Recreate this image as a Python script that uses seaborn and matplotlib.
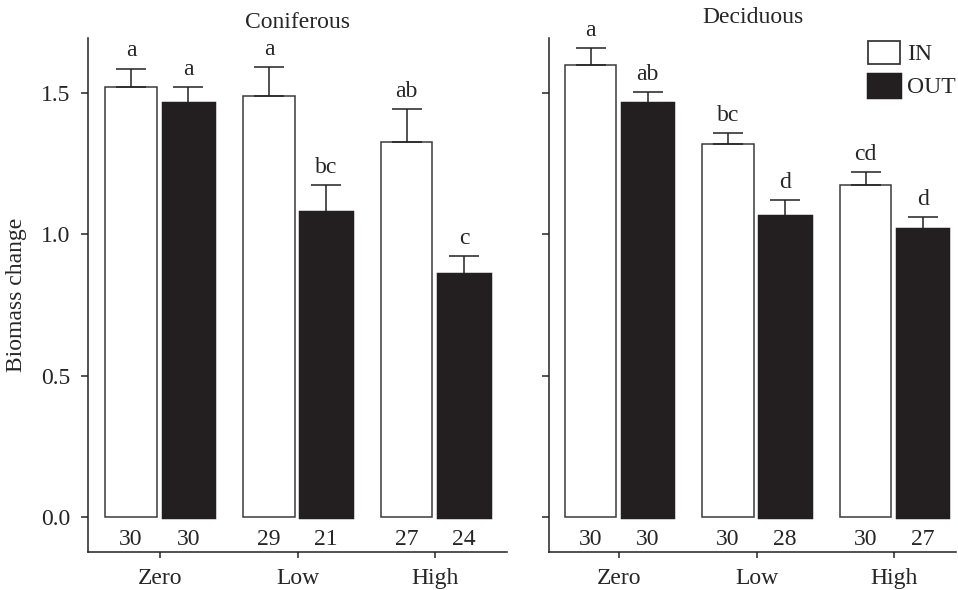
import pandas as pd
import seaborn as sns
import matplotlib.pyplot as plt
from matplotlib.patches import Patch

levels = ["Zero", "Low", "High"]
treatments = ["IN", "OUT"]

# Coniferous
con_in = [1.52, 1.49, 1.325]
con_in_se = [0.065, 0.10, 0.117]
con_out = [1.463, 1.078, 0.86]
con_out_se = [0.057, 0.095, 0.063]
con_n_in = [30, 29, 27]
con_n_out = [30, 21, 24]
con_let_in = ["a", "a", "ab"]
con_let_out = ["a", "bc", "c"]

# Deciduous
dec_in = [1.597, 1.318, 1.173]
dec_in_se = [0.06, 0.04, 0.046]
dec_out = [1.463, 1.064, 1.018]
dec_out_se = [0.04, 0.056, 0.043]
dec_n_in = [30, 30, 30]
dec_n_out = [30, 28, 27]
dec_let_in = ["a", "bc", "cd"]
dec_let_out = ["ab", "d", "d"]

BLACK = "#231f20"
EDGE = "#3a3a3a"

sns.set_theme(style="ticks")
plt.rcParams["font.family"] = ["Liberation Serif", "DejaVu Serif"]
plt.rcParams["font.size"] = 17
plt.rcParams["axes.linewidth"] = 1.1
plt.rcParams["xtick.major.width"] = 1.1
plt.rcParams["ytick.major.width"] = 1.1
plt.rcParams["axes.edgecolor"] = "#222222"


def panel(ax, title, vin, vout, se_in, se_out, n_in, n_out, let_in, let_out, title_pad):
    df = pd.DataFrame({
        "level": levels * 2,
        "treatment": ["IN"] * 3 + ["OUT"] * 3,
        "value": vin + vout,
    })
    sns.barplot(data=df, x="level", y="value", hue="treatment", order=levels,
                hue_order=treatments, palette={"IN": "white", "OUT": BLACK},
                width=0.83, gap=0.1, errorbar=None, legend=False, ax=ax,
                saturation=1, linewidth=1.1)
    cont_in, cont_out = ax.containers[0], ax.containers[1]
    for bar in cont_in:
        bar.set_edgecolor(EDGE)
    for bar in cont_out:
        bar.set_edgecolor(BLACK)
        bar.set_linewidth(2.5)
    for cont, ses, ns, lets in [(cont_in, se_in, n_in, let_in),
                                (cont_out, se_out, n_out, let_out)]:
        for bar, se, n, let in zip(cont, ses, ns, lets):
            x = bar.get_x() + bar.get_width() / 2
            h = bar.get_height()
            ax.errorbar(x, h, yerr=[[0], [se]], fmt="none", ecolor="#222222",
                        elinewidth=1.1, capsize=10.5, capthick=1.1, zorder=1)
            ax.annotate(let, (x, h + se), xytext=(0, 9), textcoords="offset points",
                        ha="center", va="baseline", fontsize=17)
            ax.text(x, -0.08, str(n), ha="center", va="center", fontsize=17)
    ax.set_ylim(-0.123, 1.694)
    ax.set_yticks([0.0, 0.5, 1.0, 1.5])
    ax.set_xlabel("")
    ax.set_title(title, fontsize=17, pad=title_pad)
    ax.tick_params(axis="y", length=5, pad=8, labelsize=17)
    ax.tick_params(axis="x", length=4.5, pad=7, labelsize=17)
    sns.despine(ax=ax)


fig = plt.figure(figsize=(9.58, 5.90), dpi=100)
ax1 = fig.add_axes([88 / 958, 1 - 552 / 590, (507 - 88) / 958, (552 - 38) / 590])
ax2 = fig.add_axes([549 / 958, 1 - 552 / 590, (956 - 549) / 958, (552 - 38) / 590])

panel(ax1, "Coniferous", con_in, con_out, con_in_se, con_out_se,
      con_n_in, con_n_out, con_let_in, con_let_out, 7)
panel(ax2, "Deciduous", dec_in, dec_out, dec_in_se, dec_out_se,
      dec_n_in, dec_n_out, dec_let_in, dec_let_out, 11)

ax1.set_xlim(-0.52, 2.52)
ax2.set_xlim(-0.51, 2.45)
ax1.set_ylabel("Biomass change", fontsize=17)
ax1.yaxis.set_label_coords(-0.145, 0.5)
ax2.set_ylabel("")
ax2.set_yticklabels([])

handles = [Patch(facecolor="white", edgecolor=EDGE, linewidth=1.3, label="IN"),
           Patch(facecolor=BLACK, edgecolor=BLACK, linewidth=2.5, label="OUT")]
ax2.legend(handles=handles, loc="upper right", bbox_to_anchor=(1.0, 0.995),
           frameon=False, fontsize=17, handlelength=1.35, handleheight=1.15,
           handletextpad=0.3, labelspacing=0.35, borderaxespad=0, borderpad=0)

fig.savefig("out.png", dpi=100)
